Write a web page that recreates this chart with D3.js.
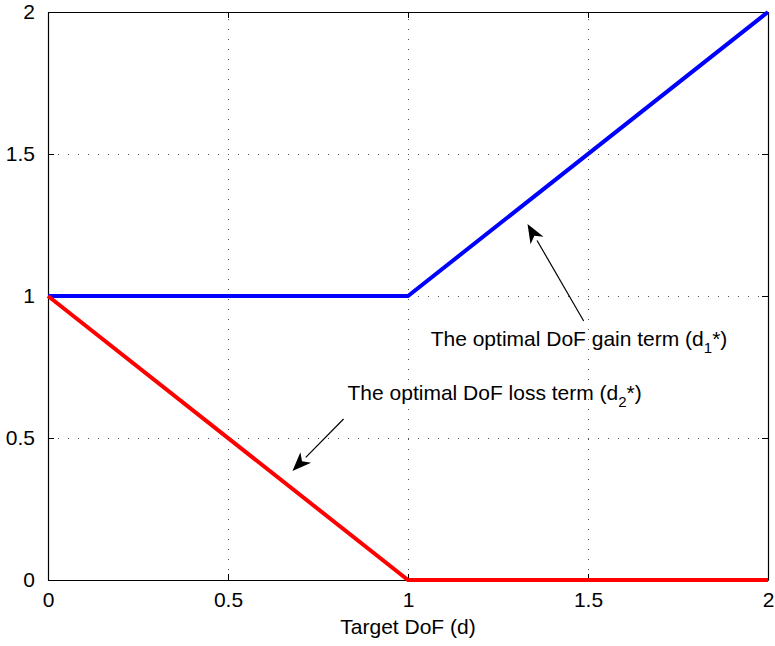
<!DOCTYPE html>
<html><head><meta charset="utf-8">
<script src="https://cdn.jsdelivr.net/npm/d3@7"></script>
<style>body{margin:0;background:#fff;} svg{display:block;font-family:"Liberation Sans",Arial,sans-serif;}</style>
</head><body>
<svg id="chart" width="775" height="646"></svg>
<script>
const xTicks = [0, 0.5, 1, 1.5, 2];
const yTicks = [0, 0.5, 1, 1.5, 2];
const xTickLabels = ["0", "0.5", "1", "1.5", "2"];
const yTickLabels = ["0", "0.5", "1", "1.5", "2"];
const gainX = [0, 1, 2];
const gainY = [1, 1, 2];
const lossX = [0, 1, 2];
const lossY = [1, 0, 0];
const xLabel = "Target DoF (d)";
// annotations: [tailX, tailY, tipX, tipY] in data units, text anchor in data units
const gainArrow = [1.488, 0.912, 1.332, 1.2535];
const lossArrow = [0.821, 0.567, 0.679, 0.384];
const gainTextPos = [1.063, 0.824];
const lossTextPos = [0.832, 0.634];

const W = 775, H = 646;
const m = {left: 48, right: 7, top: 12, bottom: 66};
const svg = d3.select("#chart");
const x = d3.scaleLinear().domain([0, 2]).range([m.left, W - m.right]);
const y = d3.scaleLinear().domain([0, 2]).range([H - m.bottom, m.top]);

// grid
const grid = svg.append("g").attr("stroke", "#555").attr("stroke-width", 1).attr("stroke-dasharray", "1,9");
xTicks.slice(1, -1).forEach(t => grid.append("line")
  .attr("x1", Math.round(x(t)) + 0.5).attr("x2", Math.round(x(t)) + 0.5)
  .attr("y1", y(0)).attr("y2", y(2)));
yTicks.slice(1, -1).forEach(t => grid.append("line")
  .attr("y1", Math.round(y(t)) + 0.5).attr("y2", Math.round(y(t)) + 0.5)
  .attr("x1", x(0)).attr("x2", x(2)));

// axes
const fs = 21;
const xAxisB = d3.axisBottom(x).tickValues(xTicks).tickFormat((d, i) => xTickLabels[i]).tickSizeInner(-6).tickSizeOuter(0).tickPadding(12);
const xAxisT = d3.axisTop(x).tickValues(xTicks).tickFormat("").tickSizeInner(-6).tickSizeOuter(0);
const yAxisL = d3.axisLeft(y).tickValues(yTicks).tickFormat((d, i) => yTickLabels[i]).tickSizeInner(-6).tickSizeOuter(0).tickPadding(13);
const yAxisR = d3.axisRight(y).tickValues(yTicks).tickFormat("").tickSizeInner(-6).tickSizeOuter(0);
function style(g) {
  g.selectAll("path").attr("stroke", "#000").attr("stroke-width", 1.2);
  g.selectAll("line").attr("stroke", "#000");
  g.selectAll("text").attr("fill", "#000").attr("font-size", fs).attr("font-family", "Liberation Sans, Arial, sans-serif");
}
svg.append("g").attr("transform", `translate(0,${y(0)})`).call(xAxisB).call(style);
svg.append("g").attr("transform", `translate(0,${y(2)})`).call(xAxisT).call(style);
svg.append("g").attr("transform", `translate(${x(0)},0)`).call(yAxisL).call(style);
svg.append("g").attr("transform", `translate(${x(2)},0)`).call(yAxisR).call(style);

svg.append("text").attr("x", x(1)).attr("y", 634).attr("text-anchor", "middle")
  .attr("font-size", fs).text(xLabel);

// lines
const line = d3.line().x(d => x(d[0])).y(d => y(d[1]));
svg.append("path").datum(gainX.map((v, i) => [v, gainY[i]])).attr("d", line)
  .attr("fill", "none").attr("stroke", "#0000ff").attr("stroke-width", 4);
svg.append("path").datum(lossX.map((v, i) => [v, lossY[i]])).attr("d", line)
  .attr("fill", "none").attr("stroke", "#ff0000").attr("stroke-width", 4);

// arrows
function arrow(a) {
  const x1 = x(a[0]), y1 = y(a[1]), x2 = x(a[2]), y2 = y(a[3]);
  const ang = Math.atan2(y2 - y1, x2 - x1);
  const L = 19, Wd = 7.5;
  const bx = x2 - L * Math.cos(ang), by = y2 - L * Math.sin(ang);
  svg.append("line").attr("x1", x1).attr("y1", y1).attr("x2", bx).attr("y2", by)
    .attr("stroke", "#000").attr("stroke-width", 1.2);
  const px = -Math.sin(ang), py = Math.cos(ang);
  const inner = 0.72;
  const ix = x2 - L * inner * Math.cos(ang), iy = y2 - L * inner * Math.sin(ang);
  svg.append("path").attr("d", `M${x2},${y2} L${bx + px * Wd},${by + py * Wd} L${ix},${iy} L${bx - px * Wd},${by - py * Wd} Z`)
    .attr("fill", "#000");
}
arrow(gainArrow);
arrow(lossArrow);

function label(pos, main, sub) {
  const t = svg.append("text").attr("x", x(pos[0])).attr("y", y(pos[1])).attr("font-size", fs).attr("fill", "#000");
  t.append("tspan").text(main + " (d");
  t.append("tspan").attr("font-size", 15).attr("dy", 7).text(sub);
  t.append("tspan").attr("dy", -7).text("*)");
}
label(gainTextPos, "The optimal DoF gain term", "1");
label(lossTextPos, "The optimal DoF loss term", "2");
</script>
</body></html>
